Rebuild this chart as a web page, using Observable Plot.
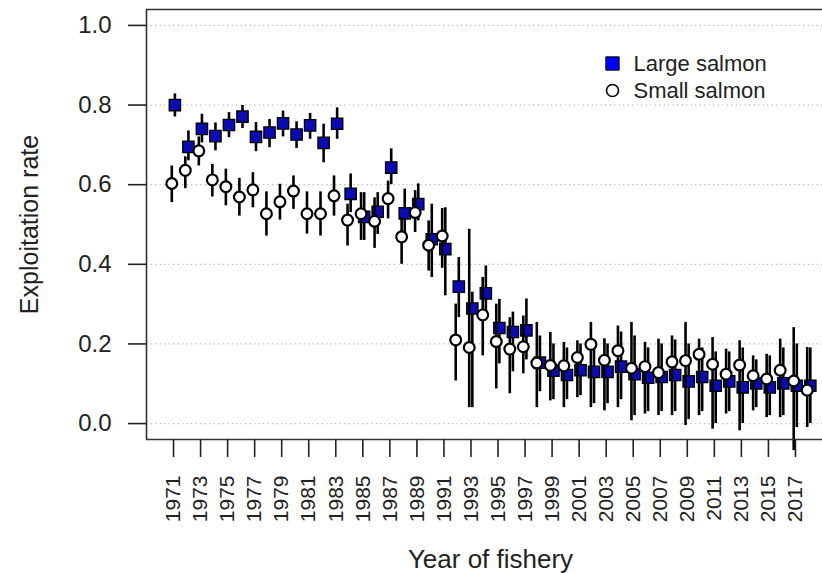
<!DOCTYPE html>
<html><head><meta charset="utf-8">
<script src="https://cdn.jsdelivr.net/npm/d3@7"></script>
<script src="https://cdn.jsdelivr.net/npm/@observablehq/plot@0.6"></script>
<style>
body{margin:0;background:#fff;}
#chart svg{display:block;}
</style>
</head><body><div id="chart"></div>
<script>
const years = [1971,1972,1973,1974,1975,1976,1977,1978,1979,1980,
  1981,1982,1983,1984,1985,1986,1987,1988,1989,1990,
  1991,1992,1993,1994,1995,1996,1997,1998,1999,2000,
  2001,2002,2003,2004,2005,2006,2007,2008,2009,2010,
  2011,2012,2013,2014,2015,2016,2017,2018];

const largeRate = [0.800,0.695,0.740,0.722,0.750,0.771,0.720,0.731,0.754,0.726,
  0.749,0.705,0.753,0.577,0.519,0.532,0.643,0.528,0.551,0.463,
  0.438,0.344,0.289,0.327,0.240,0.230,0.234,0.153,0.133,0.122,
  0.134,0.130,0.130,0.143,0.124,0.115,0.117,0.122,0.106,0.117,
  0.095,0.106,0.091,0.101,0.091,0.101,0.095,0.095];
const largeLo = [0.770,0.660,0.705,0.685,0.718,0.741,0.683,0.693,0.720,0.691,
  0.714,0.655,0.714,0.530,0.460,0.475,0.600,0.467,0.509,0.367,
  0.321,0.266,0.040,0.266,0.150,0.130,0.160,0.080,0.060,0.060,
  0.070,0.050,0.050,0.060,0.020,0.030,0.030,0.030,0.010,0.030,
  0.000,0.030,0.000,0.040,0.020,0.020,-0.010,0.000];
const largeHi = [0.828,0.735,0.777,0.755,0.781,0.799,0.756,0.764,0.785,0.758,
  0.779,0.752,0.793,0.627,0.580,0.580,0.690,0.589,0.602,0.551,
  0.542,0.417,0.330,0.396,0.312,0.280,0.313,0.220,0.200,0.190,
  0.200,0.210,0.200,0.230,0.220,0.190,0.200,0.210,0.200,0.190,
  0.180,0.180,0.190,0.160,0.170,0.190,0.200,0.190];

const smallRate = [0.603,0.636,0.685,0.612,0.595,0.569,0.587,0.527,0.557,0.584,
  0.527,0.527,0.572,0.511,0.527,0.508,0.565,0.469,0.530,0.448,
  0.471,0.210,0.191,0.273,0.206,0.187,0.193,0.152,0.146,0.145,
  0.166,0.199,0.159,0.183,0.139,0.143,0.128,0.155,0.158,0.174,
  0.149,0.124,0.147,0.120,0.112,0.134,0.107,0.084];
const smallLo = [0.555,0.590,0.647,0.569,0.547,0.521,0.542,0.471,0.511,0.538,
  0.476,0.471,0.521,0.446,0.460,0.440,0.514,0.400,0.480,0.383,
  0.390,0.107,0.040,0.170,0.087,0.075,0.125,0.040,0.057,0.040,
  0.065,0.040,0.032,0.040,0.007,0.024,0.020,0.020,-0.005,0.020,
  -0.014,0.024,-0.018,0.032,0.015,0.015,-0.068,-0.010];
const smallHi = [0.647,0.670,0.720,0.651,0.639,0.616,0.630,0.582,0.601,0.622,
  0.582,0.582,0.622,0.551,0.580,0.567,0.609,0.517,0.585,0.509,
  0.540,0.300,0.488,0.367,0.300,0.266,0.270,0.254,0.229,0.204,
  0.208,0.254,0.213,0.245,0.254,0.204,0.212,0.220,0.254,0.212,
  0.216,0.187,0.208,0.170,0.174,0.212,0.241,0.191];

const xTickYears = [1971,1973,1975,1977,1979,1981,1983,1985,1987,1989,1991,1993,
  1995,1997,1999,2001,2003,2005,2007,2009,2011,2013,2015,2017];
const yTicks = [0.0,0.2,0.4,0.6,0.8,1.0];
const seriesNames = ["Large salmon","Small salmon"];
const xTitle = "Year of fishery";
const yTitle = "Exploitation rate";
const xDomain = [1969, 2019];
const yDomain = [-0.04, 1.04];

const large = years.map((yr,i)=>({year:yr, rate:largeRate[i], lo:largeLo[i], hi:largeHi[i]}));
const small = years.map((yr,i)=>({year:yr, rate:smallRate[i], lo:smallLo[i], hi:smallHi[i]}));

const FONT = "'Liberation Sans', Arial, Helvetica, sans-serif";
const ink = "#222";
const blue = "#0b0bb4";

const chart = Plot.plot({
  width: 822,
  height: 573,
  marginLeft: 146,
  marginRight: 0,
  marginTop: 9,
  marginBottom: 134,
  style: {fontFamily: FONT, background: "#fff", color: ink},
  x: {domain: xDomain},
  y: {domain: yDomain},
  marks: [
    Plot.ruleY(yTicks, {stroke: "#c4c4c4", strokeWidth: 1.2, strokeDasharray: "1.5,3"}),
    Plot.ruleX(large, {x: d => d.year + 0.1, y1: "lo", y2: "hi", stroke: "#000", strokeWidth: 2.6}),
    Plot.dot(large, {x: d => d.year + 0.1, y: "rate", symbol: "square", r: 6.4, fill: blue, stroke: "#000", strokeWidth: 1.3}),
    Plot.ruleX(small, {x: d => d.year - 0.13, y1: "lo", y2: "hi", stroke: "#000", strokeWidth: 2.6}),
    Plot.dot(small, {x: d => d.year - 0.13, y: "rate", symbol: "circle", r: 5.4, fill: "#fff", stroke: "#000", strokeWidth: 2.2}),
    Plot.ruleX([xDomain[0]], {stroke: "#333", strokeWidth: 1.6}),
    Plot.ruleY(yDomain, {stroke: "#333", strokeWidth: 1.6}),
    Plot.axisY(yTicks, {tickSize: 18, tickPadding: 17, tickFormat: d3.format(".1f"), fontSize: 24, color: ink, strokeWidth: 1.6, label: null}),
    Plot.axisX(xTickYears, {tickSize: 18, tickPadding: 18, tickRotate: -90, tickFormat: d => String(d), fontSize: 21, color: ink, strokeWidth: 1.6, label: null}),
    // legend
    Plot.dot([seriesNames[0]], {frameAnchor: "top-left", dx: 466, dy: 54, symbol: "square", r: 7.5, fill: "#0000ff", stroke: "#000", strokeWidth: 1}),
    Plot.dot([seriesNames[1]], {frameAnchor: "top-left", dx: 466, dy: 81, symbol: "circle", r: 6, fill: "#fff", stroke: "#000", strokeWidth: 1.6}),
    Plot.text([seriesNames[0]], {frameAnchor: "top-left", dx: 487, dy: 54, text: d => d, textAnchor: "start", lineAnchor: "middle", fontSize: 22, fill: ink}),
    Plot.text([seriesNames[1]], {frameAnchor: "top-left", dx: 487, dy: 81, text: d => d, textAnchor: "start", lineAnchor: "middle", fontSize: 22, fill: ink}),
    // axis titles
    Plot.text([yTitle], {frameAnchor: "left", dx: -109, rotate: -90, text: d => d, textAnchor: "middle", lineAnchor: "bottom", fontSize: 25, fill: ink}),
    Plot.text([xTitle], {frameAnchor: "bottom", dx: 6, dy: 128, text: d => d, textAnchor: "middle", lineAnchor: "bottom", fontSize: 26, fill: ink})
  ]
});
document.getElementById("chart").appendChild(chart);
</script>
</body></html>
